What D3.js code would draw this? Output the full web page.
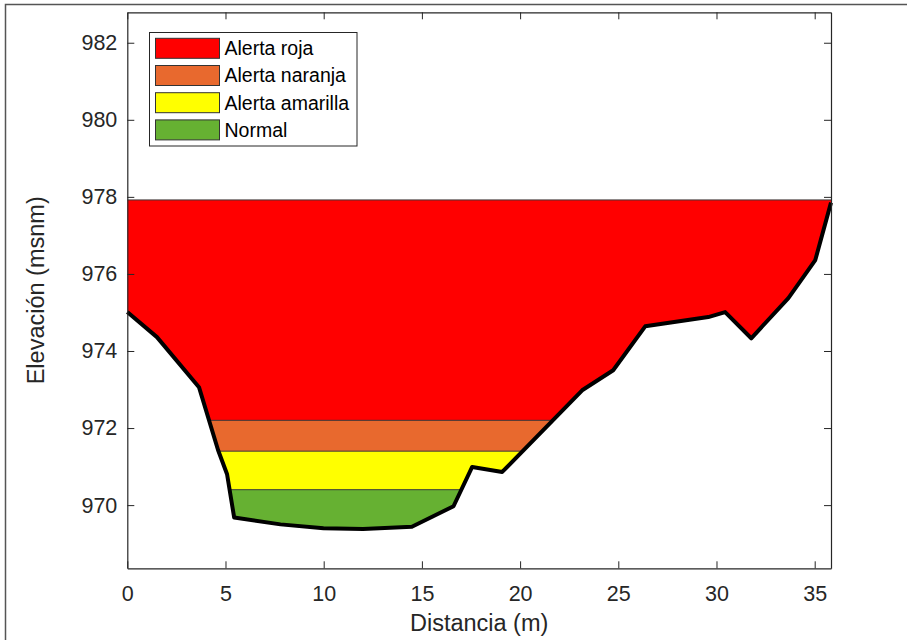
<!DOCTYPE html>
<html>
<head>
<meta charset="utf-8">
<script src="https://cdn.jsdelivr.net/npm/d3@7"></script>
<style>
  html, body { margin: 0; padding: 0; background: #fff; }
  svg { display: block; font-family: "Liberation Sans", Arial, Helvetica, sans-serif; }
</style>
</head>
<body>
<svg id="chart" width="907" height="640"></svg>
<script>
// ---- data ----
const distance  = [0, 1.51, 3.65, 4.62, 5.08, 5.44, 7.8, 9.99, 12.0, 14.49, 16.61, 17.56, 19.09, 23.16, 24.74, 26.37, 29.58, 30.44, 31.77, 33.66, 35.03, 35.83];
const elevation = [975.01, 974.36, 973.06, 971.43, 970.80, 969.68, 969.5, 969.40, 969.38, 969.44, 969.97, 970.99, 970.86, 972.98, 973.50, 974.64, 974.88, 975.01, 974.33, 975.37, 976.36, 977.85];
const alertNames  = ["Alerta roja", "Alerta naranja", "Alerta amarilla", "Normal"];
const alertLevels = [977.92, 972.2, 971.4, 970.4];
const alertColors = ["#ff0000", "#e8692e", "#ffff00", "#66b132"];
const xTicks = [0, 5, 10, 15, 20, 25, 30, 35];
const yTicks = [970, 972, 974, 976, 978, 980, 982];
const xDomain = [0, 35.83];
const yDomain = [968.36, 982.79];

// ---- layout ----
const svg = d3.select("#chart");
const L = 127.3, R = 831, T = 12.3, B = 568.3;
const axisColor = "#262626";
const x = d3.scaleLinear().domain(xDomain).range([L, R]);
const y = d3.scaleLinear().domain(yDomain).range([B, T]);

// outer figure frame
svg.append("rect").attr("x", 5.5).attr("y", 4.5).attr("width", 1000).attr("height", 1000)
  .attr("fill", "none").attr("stroke", "#555").attr("stroke-width", 1.5);

const profile = distance.map((d, i) => [d, elevation[i]]);

// clip: region above the terrain profile
const defs = svg.append("defs");
defs.append("clipPath").attr("id", "above")
  .append("path")
  .attr("d", d3.area().x(d => x(d[0])).y0(T - 5).y1(d => y(d[1]))(profile));

const bands = svg.append("g").attr("clip-path", "url(#above)");
alertLevels.forEach((lv, i) => {
  bands.append("rect")
    .attr("x", x(xDomain[0])).attr("width", x(xDomain[1]) - x(xDomain[0]))
    .attr("y", y(lv)).attr("height", B - y(lv))
    .attr("fill", alertColors[i]);
  bands.append("line")
    .attr("x1", x(xDomain[0])).attr("x2", x(xDomain[1]))
    .attr("y1", y(lv)).attr("y2", y(lv))
    .attr("stroke", "#3a3a3a").attr("stroke-width", 1);
});

// terrain line
svg.append("path")
  .attr("d", d3.line().x(d => x(d[0])).y(d => y(d[1]))(profile))
  .attr("fill", "none").attr("stroke", "#000").attr("stroke-width", 4)
  .attr("stroke-linejoin", "round").attr("stroke-linecap", "butt");

// axes (MATLAB style: box, inward ticks)
const tickLen = 7;
const gx = svg.append("g").attr("transform", `translate(0,${B})`)
  .call(d3.axisBottom(x).tickValues(xTicks).tickFormat(d3.format("d")).tickSizeInner(-tickLen).tickSizeOuter(0).tickPadding(17));
const gxTop = svg.append("g").attr("transform", `translate(0,${T})`)
  .call(d3.axisTop(x).tickValues(xTicks).tickFormat("").tickSizeInner(-tickLen).tickSizeOuter(0));
const gy = svg.append("g").attr("transform", `translate(${L},0)`)
  .call(d3.axisLeft(y).tickValues(yTicks).tickFormat(d3.format("d")).tickSizeInner(-tickLen).tickSizeOuter(0).tickPadding(10));
const gyR = svg.append("g").attr("transform", `translate(${R},0)`)
  .call(d3.axisRight(y).tickValues(yTicks).tickFormat("").tickSizeInner(-tickLen).tickSizeOuter(0));
[gx, gxTop, gy, gyR].forEach(g => {
  g.select(".domain").attr("stroke", axisColor).attr("stroke-width", 1.2);
  g.selectAll(".tick line").attr("stroke", axisColor).attr("stroke-width", 1);
  g.selectAll("text").attr("fill", axisColor).style("font-size", "21.5px")
    .style("font-family", '"Liberation Sans", Arial, sans-serif');
});

// axis labels
svg.append("text").attr("x", (L + R) / 2).attr("y", 631).attr("text-anchor", "middle")
  .attr("fill", axisColor).style("font-size", "23.5px").text("Distancia (m)");
svg.append("text").attr("transform", `translate(44,${(T + B) / 2}) rotate(-90)`)
  .attr("text-anchor", "middle").attr("fill", axisColor).style("font-size", "23.5px")
  .text("Elevación (msnm)");

// legend
const lg = svg.append("g");
lg.append("rect").attr("x", 149.5).attr("y", 32.5).attr("width", 207.5).attr("height", 113.5)
  .attr("fill", "#fff").attr("stroke", axisColor).attr("stroke-width", 1);
alertNames.forEach((n, i) => {
  const cy = 48.3 + i * 27.2;
  lg.append("rect").attr("x", 155.5).attr("y", cy - 10).attr("width", 64).attr("height", 20)
    .attr("fill", alertColors[i]).attr("stroke", "#333").attr("stroke-width", 1);
  lg.append("text").attr("x", 224.5).attr("y", cy).attr("dy", "0.35em")
    .attr("fill", "#000").style("font-size", "19.5px").text(n);
});
</script>
</body>
</html>
